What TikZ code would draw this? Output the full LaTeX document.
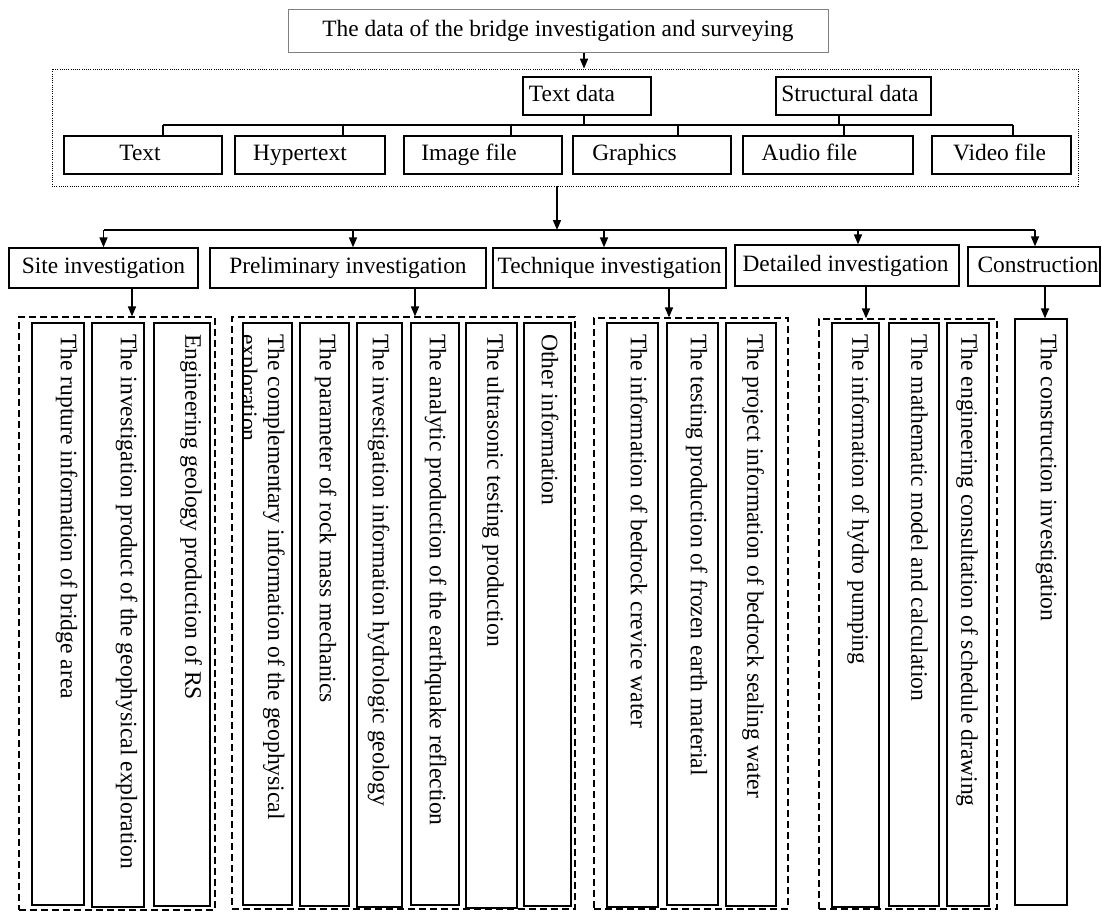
\documentclass[tikz,border=0pt]{standalone}
\usepackage{fontspec}
\setmainfont{Liberation Serif}
\usetikzlibrary{arrows.meta}
\newcommand\vbx[5]{\node[vbox, minimum width={#3-#2}, minimum height={#5-#4}] (#1) at ({(#2+#3)/2},{(#4+#5)/2}) {};}
\newcommand\vtx[3]{\node[vtext] (#1) at (#2,334) {#3};}
\newcommand\padr[1]{\hspace*{#1}\null}
\begin{document}
\begin{tikzpicture}[x=1pt,y=-1pt,
  every node/.style={font=\fontsize{23.4}{27}\selectfont},
  topbox/.style={draw=black!50, line width=1pt, inner sep=0pt, text height=16pt, text depth=5pt},
  dotbox/.style={draw, line width=0.8pt, dash pattern=on 1pt off 1.2pt, inner sep=0pt},
  hbox/.style={draw, line width=1.3pt, inner sep=0pt, text height=16pt, text depth=5pt},
  vbox/.style={draw, line width=1.3pt, inner sep=0pt},
  grpbox/.style={draw, line width=1.2pt, dash pattern=on 7pt off 4pt, inner sep=0pt},
  vtext/.style={rotate=-90, anchor=base west, inner sep=0pt, font=\fontsize{23.6}{27}\selectfont},
  conn/.style={line width=1.4pt},
  arr/.style={line width=1.6pt, -{Triangle[length=10pt,width=8pt]}}]
\useasboundingbox (0,0) rectangle (1102,911);

% top
\node[topbox, minimum width=540, minimum height=43] (top) at (558,30.5) {The data of the bridge investigation and surveying};
\node[dotbox, minimum width=1026, minimum height=117] (grp) at (565,127.5) {};
\node[hbox, minimum width=128, minimum height=38] (tdata) at (587,96) {Text data\padr{30pt}};
\node[hbox, minimum width=155, minimum height=38] (sdata) at (853.5,96) {Structural data\padr{7pt}};
\draw[arr] ([xshift=-3pt]tdata.north |- top.south) -- ([xshift=-3pt]tdata.north |- grp.north);

\node[hbox, minimum width=158, minimum height=38] (rT) at (143,155) {Text\padr{6pt}};
\node[hbox, minimum width=150, minimum height=38] (rH) at (310,155) {Hypertext\padr{20pt}};
\node[hbox, minimum width=158, minimum height=38] (rI) at (483,155) {Image file\padr{28pt}};
\node[hbox, minimum width=158, minimum height=38] (rG) at (652,155) {Graphics\padr{35pt}};
\node[hbox, minimum width=170, minimum height=38] (rA) at (828,155) {Audio file\padr{37pt}};
\node[hbox, minimum width=139, minimum height=38] (rV) at (1001.5,155) {Video file\padr{4pt}};

\coordinate (busL) at (163,125);
\coordinate (busR) at (1013,125);
\draw[conn] (busL) -- (busR);
\draw[conn] ([xshift=-3pt]tdata.south) -- ([xshift=-3pt]tdata.south |- busL);
\draw[conn] ([xshift=-14.5pt]sdata.south) -- ([xshift=-14.5pt]sdata.south |- busL);
\draw[conn] ([xshift=20pt]rT.north) -- ([xshift=20pt]rT.north |- busL);
\draw[conn] ([xshift=33pt]rH.north) -- ([xshift=33pt]rH.north |- busL);
\draw[conn] ([xshift=28pt]rI.north) -- ([xshift=28pt]rI.north |- busL);
\draw[conn] ([xshift=26pt]rG.north) -- ([xshift=26pt]rG.north |- busL);
\draw[conn] ([xshift=16pt]rA.north) -- ([xshift=16pt]rA.north |- busL);
\draw[conn] ([xshift=11.5pt]rV.north) -- ([xshift=11.5pt]rV.north |- busL);

% stages
\node[hbox, minimum width=189, minimum height=40] (sSite) at (103.5,268) {Site investigation};
\node[hbox, minimum width=276, minimum height=40] (sPre) at (348,268) {Preliminary investigation};
\node[hbox, minimum width=233, minimum height=40] (sTec) at (609.5,268) {Technique investigation};
\node[hbox, minimum width=224, minimum height=41] (sDet) at (847,265.5) {Detailed investigation\padr{3pt}};
\node[hbox, minimum width=132, minimum height=39] (sCon) at (1034,266.5) {\null\hspace*{8pt}Construction};

\coordinate (bus2L) at (104,230);
\coordinate (bus2R) at (1035,230);
\draw[line width=1.8pt] (bus2L) -- (bus2R);
\draw[arr] ([xshift=-8pt]grp.south) -- ([xshift=-8pt]grp.south |- bus2L);
\draw[arr] (sSite.north |- bus2L) -- (sSite.north);
\draw[arr] ([xshift=5pt]sPre.north |- bus2L) -- ([xshift=5pt]sPre.north);
\draw[arr] ([xshift=-5.5pt]sTec.north |- bus2L) -- ([xshift=-5.5pt]sTec.north);
\draw[arr] ([xshift=11pt]sDet.north |- bus2L) -- ([xshift=11pt]sDet.north);
\draw[arr] ([xshift=1pt]sCon.north |- bus2L) -- ([xshift=1pt]sCon.north);

% groups
\node[grpbox, minimum width=196, minimum height=593] (gSite) at (117,613.5) {};
\node[grpbox, minimum width=343, minimum height=592] (gPre) at (403.5,613) {};
\node[grpbox, minimum width=194, minimum height=591] (gTec) at (691,613.5) {};
\node[grpbox, minimum width=178, minimum height=590] (gDet) at (908,614) {};

\vbx{a1}{32}{84}{323}{905}
\vbx{a2}{92}{144}{323}{907}
\vbx{a3}{154}{210}{323}{906}
\vbx{b1}{243}{292}{323}{905}
\vbx{b2}{300}{349}{323}{906}
\vbx{b3}{357}{402}{323}{907}
\vbx{b4}{411}{459}{323}{905}
\vbx{b5}{466}{517}{323}{908}
\vbx{b6}{524}{571}{323}{906}
\vbx{c1}{607}{658}{323}{907}
\vbx{c2}{667}{718}{323}{905}
\vbx{c3}{726}{776}{323}{906}
\vbx{d1}{832}{879}{323}{907}
\vbx{d2}{889}{939}{323}{906}
\vbx{d3}{947}{989}{323}{906}
\vbx{e1}{1015}{1067}{319}{905}

\draw[arr] ([xshift=28.5pt]sSite.south) -- ([xshift=28.5pt]sSite.south |- gSite.north);
\draw[arr] ([xshift=67pt]sPre.south) -- ([xshift=67pt]sPre.south |- gPre.north);
\draw[arr] ([xshift=59.5pt]sTec.south) -- ([xshift=59.5pt]sTec.south |- gTec.north);
\draw[arr] ([xshift=19pt]sDet.south) -- ([xshift=19pt]sDet.south |- gDet.north);
\draw[arr] ([xshift=11pt]sCon.south) -- ([xshift=11pt]sCon.south |- e1.north);

\vtx{ta1}{60.8}{The rupture information of bridge area}
\vtx{ta2}{120.8}{The investigation product of the geophysical exploration}
\vtx{ta3}{185.3}{Engineering geology production of RS}
\vtx{tb1}{268}{The complementary information of the geophysical}
\begin{scope}
\clip (b1.north west) rectangle (b1.south east);
\vtx{tb1b}{241}{exploration}
\end{scope}
\vtx{tb2}{319.8}{The parameter of rock mass mechanics}
\vtx{tb3}{372.8}{The investigation information hydrologic geology}
\vtx{tb4}{429.8}{The analytic production of the earthquake reflection}
\vtx{tb5}{487.3}{The ultrasonic testing production}
\vtx{tb6}{541.8}{Other information}
\vtx{tc1}{630.8}{The information of bedrock crevice water}
\vtx{tc2}{690.8}{The testing production of frozen earth material}
\vtx{tc3}{747.3}{The project information of bedrock sealing water}
\vtx{td1}{852.3}{The information of hydro pumping}
\vtx{td2}{911.3}{The mathematic model and calculation}
\vtx{td3}{961.3}{The engineering consultation of schedule drawing}
\vtx{te1}{1040.8}{The construction investigation}
\end{tikzpicture}
\end{document}
